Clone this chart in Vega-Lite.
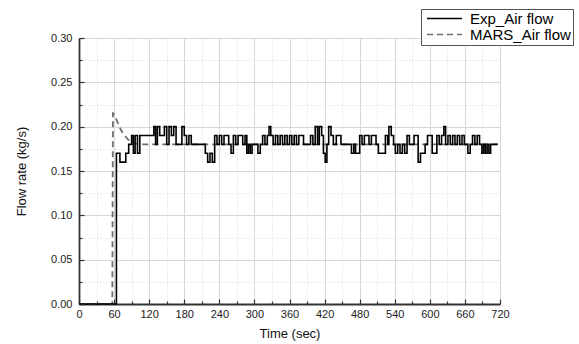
{
  "$schema": "https://vega.github.io/schema/vega-lite/v6.json",
  "width": 421,
  "height": 266,
  "autosize": "none",
  "padding": {"left": 79, "top": 38, "right": 79, "bottom": 40},
  "background": "white",
  "config": {
    "view": {"stroke": null},
    "font": "Liberation Sans",
    "axis": {"labelFont": "Liberation Sans", "titleFont": "Liberation Sans", "labelColor": "#222", "titleColor": "#111", "domainColor": "#333", "domainWidth": 1.8, "tickColor": "#333", "tickWidth": 1.2, "gridColor": "#d8d8d8", "gridWidth": 1, "labelFontSize": 11, "titleFontSize": 13, "titleFontWeight": "normal"}
  },
  "datasets": {
    "exp": [
      {"t":0,"v":0},{"t":64,"v":0.17},{"t":70,"v":0.16},{"t":76,"v":0.16},{"t":80,"v":0.17},{"t":85,"v":0.18},{"t":90,"v":0.19},{"t":93,"v":0.17},{"t":96,"v":0.19},{"t":100,"v":0.17},{"t":104,"v":0.19},{"t":128,"v":0.2},{"t":131,"v":0.18},{"t":134,"v":0.2},{"t":138,"v":0.19},{"t":146,"v":0.2},{"t":150,"v":0.18},{"t":154,"v":0.2},{"t":158,"v":0.19},{"t":162,"v":0.2},{"t":166,"v":0.18},{"t":176,"v":0.2},{"t":180,"v":0.19},{"t":184,"v":0.18},{"t":188,"v":0.19},{"t":192,"v":0.18},{"t":216,"v":0.17},{"t":220,"v":0.16},{"t":224,"v":0.17},{"t":228,"v":0.16},{"t":232,"v":0.19},{"t":236,"v":0.18},{"t":240,"v":0.19},{"t":244,"v":0.18},{"t":248,"v":0.19},{"t":256,"v":0.18},{"t":260,"v":0.17},{"t":264,"v":0.19},{"t":268,"v":0.18},{"t":272,"v":0.19},{"t":280,"v":0.18},{"t":284,"v":0.19},{"t":287,"v":0.17},{"t":290,"v":0.18},{"t":293,"v":0.17},{"t":296,"v":0.18},{"t":306,"v":0.17},{"t":310,"v":0.18},{"t":314,"v":0.19},{"t":318,"v":0.18},{"t":322,"v":0.19},{"t":325,"v":0.2},{"t":328,"v":0.19},{"t":332,"v":0.18},{"t":336,"v":0.19},{"t":340,"v":0.18},{"t":344,"v":0.19},{"t":348,"v":0.18},{"t":352,"v":0.19},{"t":356,"v":0.18},{"t":360,"v":0.19},{"t":364,"v":0.18},{"t":368,"v":0.19},{"t":372,"v":0.18},{"t":376,"v":0.19},{"t":384,"v":0.18},{"t":396,"v":0.19},{"t":400,"v":0.18},{"t":404,"v":0.2},{"t":408,"v":0.18},{"t":411,"v":0.2},{"t":415,"v":0.19},{"t":418,"v":0.17},{"t":421,"v":0.16},{"t":424,"v":0.18},{"t":427,"v":0.2},{"t":431,"v":0.19},{"t":435,"v":0.18},{"t":440,"v":0.19},{"t":448,"v":0.18},{"t":466,"v":0.17},{"t":470,"v":0.18},{"t":473,"v":0.17},{"t":480,"v":0.19},{"t":484,"v":0.18},{"t":488,"v":0.19},{"t":496,"v":0.18},{"t":500,"v":0.19},{"t":508,"v":0.18},{"t":512,"v":0.17},{"t":524,"v":0.19},{"t":528,"v":0.18},{"t":530,"v":0.2},{"t":534,"v":0.19},{"t":538,"v":0.18},{"t":541,"v":0.17},{"t":545,"v":0.18},{"t":549,"v":0.17},{"t":553,"v":0.18},{"t":557,"v":0.17},{"t":561,"v":0.19},{"t":565,"v":0.18},{"t":573,"v":0.19},{"t":580,"v":0.16},{"t":584,"v":0.17},{"t":592,"v":0.18},{"t":596,"v":0.19},{"t":604,"v":0.17},{"t":612,"v":0.19},{"t":616,"v":0.18},{"t":620,"v":0.19},{"t":624,"v":0.2},{"t":627,"v":0.18},{"t":631,"v":0.19},{"t":635,"v":0.18},{"t":639,"v":0.19},{"t":643,"v":0.18},{"t":647,"v":0.19},{"t":651,"v":0.18},{"t":655,"v":0.19},{"t":659,"v":0.18},{"t":665,"v":0.17},{"t":669,"v":0.18},{"t":673,"v":0.19},{"t":677,"v":0.18},{"t":681,"v":0.19},{"t":685,"v":0.18},{"t":689,"v":0.17},{"t":692,"v":0.18},{"t":695,"v":0.17},{"t":698,"v":0.18},{"t":701,"v":0.17},{"t":704,"v":0.18},{"t":716,"v":0.18}
    ],
    "mars": [
      {"t":0,"v":0},{"t":57,"v":0},{"t":58,"v":0.215},{"t":60,"v":0.214},{"t":63,"v":0.21},{"t":67,"v":0.203},{"t":72,"v":0.196},{"t":78,"v":0.19},{"t":86,"v":0.184},{"t":95,"v":0.181},{"t":110,"v":0.18},{"t":716,"v":0.18}
    ]
  },
  "encoding": {
    "x": {
      "field": "t", "type": "quantitative",
      "scale": {"domain": [0, 720], "nice": false, "zero": false},
      "axis": {
        "title": "Time (sec)",
        "values": [0,30,60,90,120,150,180,210,240,270,300,330,360,390,420,450,480,510,540,570,600,630,660,690,720],
        "labelExpr": "datum.value % 60 === 0 ? datum.label : ''",
        "grid": true,
        "gridDash": {"condition": {"test": "datum.value % 60 !== 0", "value": [1, 2]}, "value": []},
        "tickSize": {"condition": {"test": "datum.value % 60 !== 0", "value": -3}, "value": -5},
        "labelPadding": 9,
        "titlePadding": 6,
        "labelFlush": false,
        "labelOverlap": false
      }
    },
    "y": {
      "field": "v", "type": "quantitative",
      "scale": {"domain": [0, 0.3], "nice": false},
      "axis": {
        "title": "Flow rate (kg/s)",
        "values": [0,0.025,0.05,0.075,0.1,0.125,0.15,0.175,0.2,0.225,0.25,0.275,0.3],
        "labelExpr": "abs(datum.value*20 - round(datum.value*20)) < 0.01 ? format(datum.value, '.2f') : ''",
        "grid": true,
        "gridDash": {"condition": {"test": "abs(datum.value*20 - round(datum.value*20)) > 0.01", "value": [1, 2]}, "value": []},
        "tickSize": {"condition": {"test": "abs(datum.value*20 - round(datum.value*20)) > 0.01", "value": -3}, "value": -5},
        "labelPadding": 12,
        "titlePadding": 22,
        "labelOverlap": false
      }
    },
    "color": {
      "type": "nominal",
      "scale": {"domain": ["Exp_Air flow", "MARS_Air flow"], "range": ["#000000", "#6e6e6e"]},
      "legend": {
        "title": null, "orient": "none", "legendX": 342, "legendY": -29,
        "symbolType": "M-4.375,0H4.375", "symbolSize": 64, "symbolStrokeWidth": 1.5, "symbolOffset": 14,
        "labelFont": "Liberation Sans", "labelFontSize": 15, "labelColor": "#000", "labelOffset": 18,
        "strokeColor": "#555", "padding": 2, "rowPadding": -2, "fillColor": "white"
      }
    },
    "strokeDash": {
      "type": "nominal",
      "scale": {"domain": ["Exp_Air flow", "MARS_Air flow"], "range": [[1, 0], [6, 4]]},
      "legend": {
        "title": null, "orient": "none", "legendX": 342, "legendY": -29,
        "symbolType": "M-4.375,0H4.375", "symbolSize": 64, "symbolStrokeWidth": 1.5, "symbolOffset": 14,
        "labelFont": "Liberation Sans", "labelFontSize": 15, "labelColor": "#000", "labelOffset": 18,
        "strokeColor": "#555", "padding": 2, "rowPadding": -2, "fillColor": "white"
      }
    }
  },
  "layer": [
    {
      "data": {"name": "mars"},
      "mark": {"type": "line", "strokeWidth": 1.8, "interpolate": "linear"},
      "encoding": {"color": {"datum": "MARS_Air flow"}, "strokeDash": {"datum": "MARS_Air flow"}}
    },
    {
      "data": {"name": "exp"},
      "mark": {"type": "line", "strokeWidth": 1.6, "interpolate": "step-after"},
      "encoding": {"color": {"datum": "Exp_Air flow"}, "strokeDash": {"datum": "Exp_Air flow"}}
    }
  ]
}
